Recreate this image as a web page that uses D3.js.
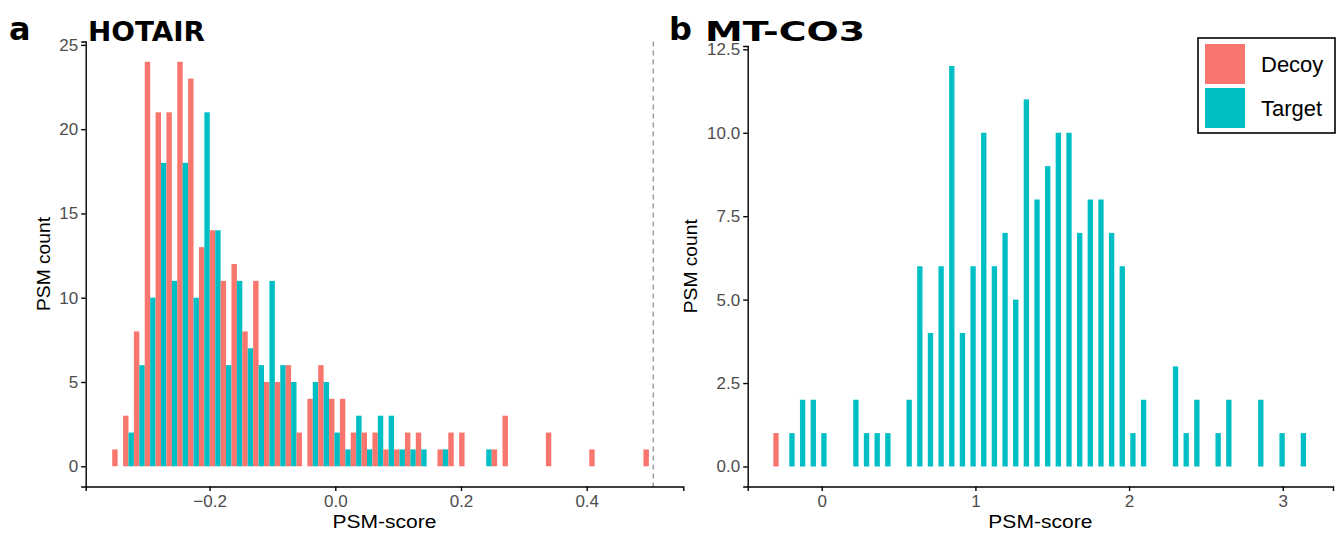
<!DOCTYPE html>
<html>
<head>
<meta charset="utf-8">
<script src="https://cdn.jsdelivr.net/npm/d3@7"></script>
<style>
  body { margin: 0; background: #fff; }
  svg { display: block; font-family: "Liberation Sans", Arial, sans-serif; }
  .tick line, .domain { stroke: #000; stroke-width: 1.4px; }
</style>
</head>
<body>
<svg id="chart" width="1343" height="536"></svg>
<script>
// HOTAIR histogram (50 bins, dodged decoy / target)
const hotairFirstBin = -0.3463;
const hotairBinWidth = 0.01725;
const hotairDecoy = [1, 3, 8, 24, 21, 21, 24, 23, 13, 14,
                     11, 12, 8, 11, 5, 5, 6, 2, 4, 6,
                     4, 4, 2, 2, 2, 1, 1, 2, 2, 0,
                     1, 2, 2, 0, 0, 1, 3, 0, 0, 0,
                     2, 0, 0, 0, 1, 0, 0, 0, 0, 1];
const hotairTarget = [0, 2, 6, 10, 18, 11, 18, 10, 21, 14,
                      6, 11, 7, 6, 11, 6, 5, 0, 5, 5,
                      2, 1, 3, 1, 3, 3, 1, 1, 1, 0,
                      1, 0, 0, 0, 1, 0, 0, 0, 0, 0,
                      0, 0, 0, 0, 0, 0, 0, 0, 0, 0];
const hotairCutoff = 0.506;
const hotairXTicks = [-0.2, 0, 0.2, 0.4];
const hotairYTicks = [0, 5, 10, 15, 20, 25];

// MT-CO3 histogram
const mtco3FirstBin = -0.2806;
const mtco3BinWidth = 0.06934;
const mtco3Decoy = [1, 0, 0, 0, 0, 0, 0, 0, 0, 0,
                    0, 0, 0, 0, 0, 0, 0, 0, 0, 0,
                    0, 0, 0, 0, 0, 0, 0, 0, 0, 0,
                    0, 0, 0, 0, 0, 0, 0, 0, 0, 0,
                    0, 0, 0, 0, 0, 0, 0, 0, 0, 0];
const mtco3Target = [0, 1, 2, 2, 1, 0, 0, 2, 1, 1,
                     1, 0, 2, 6, 4, 6, 12, 4, 6, 10,
                     6, 7, 5, 11, 8, 9, 10, 10, 7, 8,
                     8, 7, 6, 1, 2, 0, 0, 3, 1, 2,
                     0, 1, 2, 0, 0, 2, 0, 1, 0, 1];
const mtco3XTicks = [0, 1, 2, 3];
const mtco3YTicks = [0, 2.5, 5, 7.5, 10, 12.5];

const groups = ['Decoy', 'Target'];
const colors = {Decoy: '#F8766D', Target: '#00BFC4'};

const svg = d3.select('#chart');

// d3 axis puts font-size="10" on the group, so override it there
function styleTicks(a) {
    a.attr('font-size', 17)
        .attr('font-family', '"Liberation Sans", Arial, sans-serif');
    a.selectAll('.tick text')
        .attr('font-size', 17)
        .style('font-size', '17px')
        .attr('fill', '#4d4d4d');
}

function drawPanel(opt) {
    const x = d3.scaleLinear().domain(opt.xDomain).range([opt.left, opt.right]);
    const y = d3.scaleLinear().domain(opt.yDomain).range([486.5, opt.top]);
    const g = svg.append('g');

    // bars: decoy in left half of bin, target in right half
    const rows = [];
    opt.decoy.forEach((v, i) => {
        const c = opt.firstBin + i * opt.binWidth;
        rows.push({group: 'Decoy', x0: c - opt.binWidth / 2, x1: c, n: v});
        rows.push({group: 'Target', x0: c, x1: c + opt.binWidth / 2, n: opt.target[i]});
    });
    g.selectAll('rect')
        .data(rows.filter(d => d.n > 0))
        .enter()
        .append('rect')
        .attr('x', d => x(d.x0))
        .attr('width', d => x(d.x1) - x(d.x0))
        .attr('y', d => y(d.n))
        .attr('height', d => y(0) - y(d.n))
        .attr('fill', d => colors[d.group]);

    if (opt.cutoff != null) {
        g.append('line')
            .attr('x1', x(opt.cutoff)).attr('x2', x(opt.cutoff))
            .attr('y1', opt.top).attr('y2', 486.5)
            .attr('stroke', '#9e9e9e')
            .attr('stroke-width', 1.5)
            .attr('stroke-dasharray', '5,4');
    }

    g.append('g')
        .attr('transform', 'translate(0,486.5)')
        .call(d3.axisBottom(x).tickValues(opt.xTicks).tickSizeOuter(0).tickSize(4.5).tickPadding(4)
            .tickFormat(opt.xFormat))
        .call(styleTicks);

    g.append('g')
        .attr('transform', `translate(${opt.left},0)`)
        .call(d3.axisLeft(y).tickValues(opt.yTicks).tickSizeOuter(0).tickSize(4.5).tickPadding(3)
            .tickFormat(opt.yFormat))
        .call(styleTicks);

    // axis titles
    g.append('text')
        .attr('x', (opt.left + opt.right) / 2 - 52)
        .attr('y', 528)
        .attr('textLength', 104)
        .attr('lengthAdjust', 'spacingAndGlyphs')
        .style('font-size', '18px')
        .text('PSM-score');
    g.append('text')
        .attr('transform', `translate(${opt.yTitleX},${(opt.top + 486.5) / 2 + 47}) rotate(-90)`)
        .attr('textLength', 94)
        .attr('lengthAdjust', 'spacingAndGlyphs')
        .style('font-size', '18px')
        .text('PSM count');

    // tag + title
    g.append('text')
        .attr('x', opt.tagX).attr('y', 40)
        .style('font-family', '"DejaVu Sans", sans-serif')
        .style('font-weight', 'bold')
        .style('font-size', '32px')
        .text(opt.tag);
    g.append('text')
        .attr('x', opt.titleX).attr('y', 40.5)
        .attr('textLength', opt.titleWidth)
        .attr('lengthAdjust', 'spacingAndGlyphs')
        .style('font-family', '"DejaVu Sans", sans-serif')
        .style('font-weight', 'bold')
        .style('font-size', '27px')
        .text(opt.title);
}

drawPanel({
    left: 85.7, right: 683.3, top: 41.5,
    xDomain: [-0.3971, 0.5537], yDomain: [-1.2, 25.2],
    firstBin: hotairFirstBin, binWidth: hotairBinWidth,
    decoy: hotairDecoy, target: hotairTarget, cutoff: hotairCutoff,
    xTicks: hotairXTicks, yTicks: hotairYTicks,
    xFormat: d => d3.format('.1f')(d).replace('-', '\u2212'),
    yFormat: d3.format('d'),
    yTitleX: 50, tag: 'a', tagX: 9, title: 'HOTAIR', titleX: 88, titleWidth: 117
});

drawPanel({
    left: 747.7, right: 1333, top: 46,
    xDomain: [-0.482, 3.327], yDomain: [-0.6, 12.6],
    firstBin: mtco3FirstBin, binWidth: mtco3BinWidth,
    decoy: mtco3Decoy, target: mtco3Target, cutoff: null,
    xTicks: mtco3XTicks, yTicks: mtco3YTicks,
    xFormat: d3.format('d'),
    yFormat: d3.format('.1f'),
    yTitleX: 697, tag: 'b', tagX: 669, title: 'MT-CO3', titleX: 705, titleWidth: 160
});

// legend
const legend = svg.append('g').attr('transform', 'translate(1198,38)');
legend.append('rect')
    .attr('width', 137).attr('height', 95)
    .attr('fill', '#fff').attr('stroke', '#000').attr('stroke-width', 1.6);
groups.forEach((k, i) => {
    legend.append('rect')
        .attr('x', 7).attr('y', 6 + i * 44)
        .attr('width', 40).attr('height', 40)
        .attr('fill', colors[k]);
    legend.append('text')
        .attr('x', 63).attr('y', 26 + i * 44)
        .attr('dy', '0.35em')
        .style('font-size', '22px')
        .text(k);
});
</script>
</body>
</html>
